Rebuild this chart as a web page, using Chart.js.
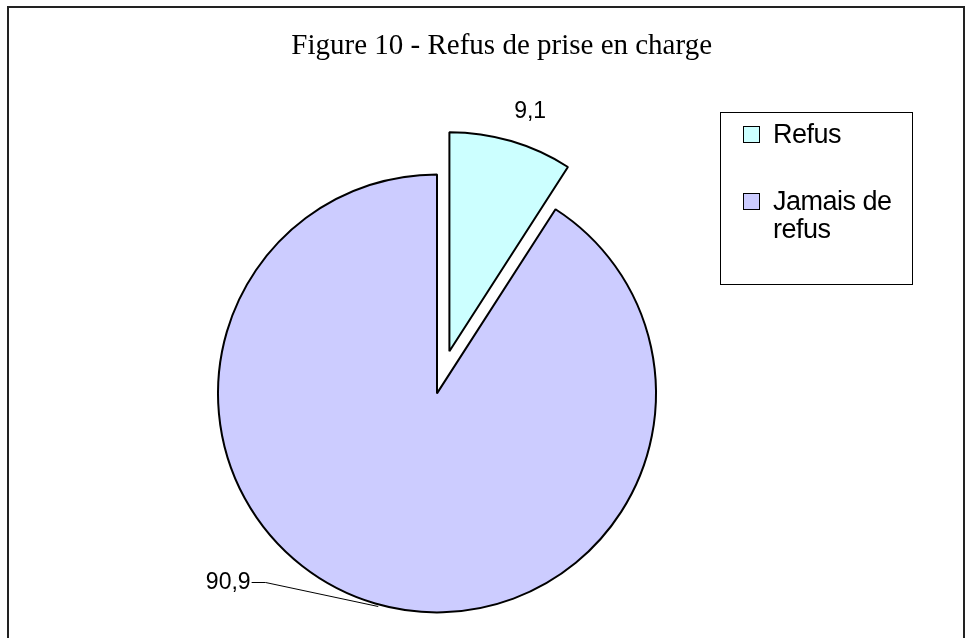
<!DOCTYPE html>
<html>
<head>
<meta charset="utf-8">
<script src="https://cdn.jsdelivr.net/npm/chart.js@4"></script>
<style>
  body { margin: 0; background: #fff; overflow: hidden; }
  #wrap { position: relative; width: 969px; height: 638px; }
  #frame { position: absolute; left: 7px; top: 6px; width: 954px; height: 700px; border: 2px solid #222; pointer-events: none; }
  #legend { position: absolute; left: 720px; top: 112px; width: 191px; height: 171px; border: 1px solid #000;
            font-family: "Liberation Sans", Arial, sans-serif; font-size: 27px; line-height: 28px; color: #000; letter-spacing: -0.5px; }
  #legend .item { position: absolute; left: 22px; display: flex; align-items: flex-start; }
  #legend .box { width: 15px; height: 15px; border: 1px solid #000; margin-top: 6px; margin-right: 13px; flex: none; }
  #legend .txt { max-width: 140px; }
</style>
</head>
<body>
<div id="wrap">
  <canvas id="pieChart" width="969" height="638"></canvas>
  <div id="legend"></div>
  <div id="frame"></div>
</div>
<script>
const titleText = 'Figure 10 - Refus de prise en charge';
const categories = ['Refus', 'Jamais de refus'];
const values = [9.1, 90.9];
const valueLabels = ['9,1', '90,9'];
const sliceColors = ['#CCFFFF', '#CCCCFF'];

// how far the "Refus" slice is pulled out, and where the value labels sit
const explode = [44, 0];
const labelShift = [{ dx: 19, dy: -29, leader: false }, { dx: -147, dy: -21, leader: true }];

const explodePlugin = {
  id: 'explode',
  afterDatasetUpdate(chart, args) {
    const arcs = chart.getDatasetMeta(args.index).data;
    arcs.forEach((arc, i) => {
      if (!explode[i]) return;
      const mid = (arc.startAngle + arc.endAngle) / 2;
      arc.x += Math.cos(mid) * explode[i];
      arc.y += Math.sin(mid) * explode[i];
    });
  }
};

const valueLabelPlugin = {
  id: 'valueLabels',
  afterDatasetsDraw(chart) {
    const ctx = chart.ctx;
    const arcs = chart.getDatasetMeta(0).data;
    ctx.save();
    ctx.font = '23px "Liberation Sans", Arial, sans-serif';
    ctx.fillStyle = '#000';
    ctx.textAlign = 'center';
    ctx.textBaseline = 'middle';
    arcs.forEach((arc, i) => {
      const mid = (arc.startAngle + arc.endAngle) / 2;
      const ex = arc.x + Math.cos(mid) * arc.outerRadius;
      const ey = arc.y + Math.sin(mid) * arc.outerRadius;
      const lx = ex + labelShift[i].dx;
      const ly = ey + labelShift[i].dy;
      ctx.fillText(valueLabels[i], lx, ly);
      if (labelShift[i].leader) {
        const w = ctx.measureText(valueLabels[i]).width;
        ctx.beginPath();
        ctx.strokeStyle = '#000';
        ctx.lineWidth = 1;
        ctx.moveTo(lx + w / 2 + 1, ly);
        ctx.lineTo(lx + w / 2 + 15, ly);
        ctx.lineTo(ex + 3, ey + 3);
        ctx.stroke();
      }
    });
    ctx.restore();
  }
};

const ctx = document.getElementById('pieChart').getContext('2d');
const pie = new Chart(ctx, {
  type: 'pie',
  data: {
    labels: categories,
    datasets: [{
      data: values,
      backgroundColor: sliceColors,
      borderColor: '#000',
      borderWidth: 2,
      radius: 219,
      clip: false
    }]
  },
  options: {
    responsive: false,
    animation: false,
    layout: { padding: { left: 162, right: 257, top: 0, bottom: 0 } },
    plugins: {
      legend: { display: false },
      tooltip: { enabled: false },
      title: {
        display: true,
        text: titleText,
        align: 'end',
        color: '#000',
        font: { family: '"Liberation Serif", "Times New Roman", serif', size: 29, weight: 'normal', lineHeight: 1.2 },
        padding: { top: 29, bottom: 85 }
      }
    }
  },
  plugins: [explodePlugin, valueLabelPlugin]
});

// legend box built from the same categories and colours
const legendEl = document.getElementById('legend');
const itemTops = [7, 74];
categories.forEach((name, i) => {
  const item = document.createElement('div');
  item.className = 'item';
  item.style.top = itemTops[i] + 'px';
  item.innerHTML = `<span class="box" style="background:${sliceColors[i]}"></span><span class="txt">${name}</span>`;
  legendEl.appendChild(item);
});
</script>
</body>
</html>
